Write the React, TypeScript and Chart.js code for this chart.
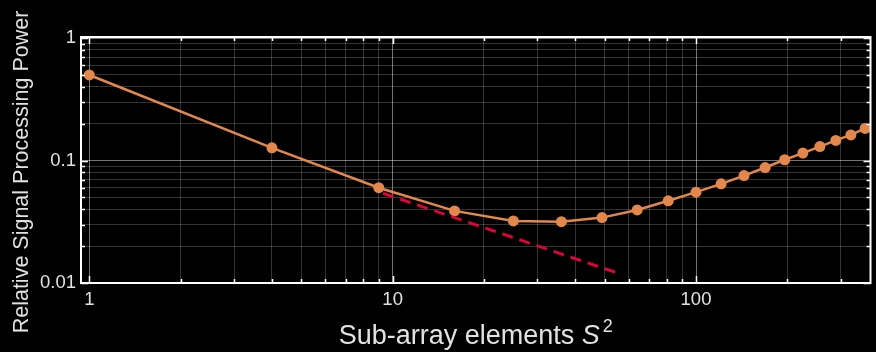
import React, { useEffect, useRef } from 'react';
import { Chart, registerables } from 'chart.js';

Chart.register(...registerables);

// ---- data ----
const elements = [1, 4, 9, 16, 25, 36, 49, 64, 81, 100, 121, 144, 169, 196, 225, 256, 289, 324, 361];
const power = [0.5, 0.127, 0.06, 0.0388, 0.0321, 0.0317, 0.0342, 0.0395, 0.0469, 0.0552, 0.0645, 0.0754, 0.0877, 0.1015, 0.115, 0.13, 0.146, 0.162, 0.183];
const trendElements = [9.3, 56];
const trendPower = [0.054, 0.0119];

const xMajorTicks = [1, 10, 100];
const xTickLabels = ['1', '10', '100'];
const yMajorTicks = [0.01, 0.1, 1];
const yTickLabels = ['0.01', '0.1', '1'];
const xMinorTicks = [2, 3, 4, 5, 6, 7, 8, 9, 20, 30, 40, 50, 60, 70, 80, 90, 200, 300];
const yMinorTicks = [0.02, 0.03, 0.04, 0.05, 0.06, 0.07, 0.08, 0.09, 0.2, 0.3, 0.4, 0.5, 0.6, 0.7, 0.8, 0.9];

const xTitle = 'Sub-array elements ';
const xTitleVar = 'S';
const xTitleSup = '2';
const yTitle = 'Relative Signal Processing Power';

const FONT = '"Liberation Sans", Arial, sans-serif';
const ORANGE = '#e3874b';
const RED = '#e8003a';
const TEXT = '#e2e2e2';

const allX = [...xMajorTicks, ...xMinorTicks].sort((a, b) => a - b);
const allY = [...yMajorTicks, ...yMinorTicks].sort((a, b) => a - b);

const framePlugin = {
  id: 'frameAndTitles',
  afterDraw(chart: any) {
    const { ctx, chartArea: a, scales } = chart;
    ctx.save();
    // inward ticks
    ctx.strokeStyle = '#ffffff';
    ctx.lineWidth = 1.5;
    ctx.beginPath();
    allX.forEach((v) => {
      const px = Math.round(scales.x.getPixelForValue(v)) + 0.5;
      if (px < a.left || px > a.right) return;
      const len = xMajorTicks.includes(v) ? 7 : 4;
      ctx.moveTo(px, a.bottom);
      ctx.lineTo(px, a.bottom - len);
      ctx.moveTo(px, a.top);
      ctx.lineTo(px, a.top + len);
    });
    allY.forEach((v) => {
      const py = Math.round(scales.y.getPixelForValue(v)) + 0.5;
      if (py < a.top - 1 || py > a.bottom + 1) return;
      const len = yMajorTicks.includes(v) ? 7 : 4;
      ctx.moveTo(a.left, py);
      ctx.lineTo(a.left + len, py);
      ctx.moveTo(a.right, py);
      ctx.lineTo(a.right - len, py);
    });
    ctx.stroke();
    // frame
    ctx.lineWidth = 2;
    ctx.strokeRect(a.left, a.top, a.right - a.left, a.bottom - a.top);

    // x title
    ctx.fillStyle = TEXT;
    ctx.textBaseline = 'alphabetic';
    ctx.textAlign = 'left';
    const f1 = `27px ${FONT}`;
    const f2 = `italic 27px ${FONT}`;
    const f3 = `18px ${FONT}`;
    ctx.font = f1;
    const w1 = ctx.measureText(xTitle).width;
    ctx.font = f2;
    const w2 = ctx.measureText(xTitleVar).width;
    ctx.font = f3;
    const w3 = ctx.measureText(xTitleSup).width;
    const total = w1 + w2 + 3 + w3;
    const cx = (a.left + a.right) / 2;
    let x0 = cx - total / 2;
    const base = 344;
    ctx.font = f1;
    ctx.fillText(xTitle, x0, base);
    x0 += w1;
    ctx.font = f2;
    ctx.fillText(xTitleVar, x0, base);
    x0 += w2 + 3;
    ctx.font = f3;
    ctx.fillText(xTitleSup, x0, base - 12);

    // y title
    ctx.translate(28, 172);
    ctx.rotate(-Math.PI / 2);
    ctx.font = `21.5px ${FONT}`;
    ctx.textAlign = 'center';
    ctx.fillText(yTitle, 0, 0);
    ctx.restore();
  },
};

export default function App() {
  const ref = useRef<HTMLCanvasElement | null>(null);

  useEffect(() => {
    document.body.style.margin = '0';
    document.body.style.background = '#000';
    if (!ref.current) return;
    const chart = new Chart(ref.current, {
      type: 'line',
      data: {
        datasets: [
          {
            label: 'trend',
            data: trendElements.map((x, i) => ({ x, y: trendPower[i] })),
            borderColor: RED,
            borderWidth: 2.8,
            borderDash: [11, 7],
            pointRadius: 0,
            fill: false,
          },
          {
            label: 'power',
            data: elements.map((x, i) => ({ x, y: power[i] })),
            borderColor: ORANGE,
            backgroundColor: ORANGE,
            borderWidth: 2.5,
            pointRadius: 5.5,
            pointBorderWidth: 0,
            pointBackgroundColor: ORANGE,
            fill: false,
          },
        ],
      },
      options: {
        animation: false,
        responsive: false,
        layout: { padding: { top: 37, right: 2, left: 0, bottom: 0 } },
        plugins: { legend: { display: false }, tooltip: { enabled: false }, title: { display: false } },
        scales: {
          x: {
            type: 'logarithmic',
            min: 0.939,
            max: 376,
            afterFit: (s: any) => { s.height = 69; s.paddingLeft = 0; s.paddingRight = 0; },
            afterBuildTicks: (s: any) => {
              s.ticks = allX.map((v) => ({ value: v, major: xMajorTicks.includes(v) }));
            },
            border: { display: false },
            grid: {
              drawTicks: false,
              color: (c: any) => (c.tick && c.tick.major ? 'rgba(255,255,255,0.45)' : 'rgba(255,255,255,0.2)'),
              lineWidth: 1,
            },
            ticks: {
              autoSkip: false,
              maxRotation: 0,
              padding: 6,
              color: TEXT,
              font: { family: FONT, size: 18.5 },
              callback: (v: any) => {
                const i = xMajorTicks.indexOf(Number(v));
                return i >= 0 ? xTickLabels[i] : '';
              },
            },
          },
          y: {
            type: 'logarithmic',
            min: 0.01,
            max: 1.021,
            afterFit: (s: any) => { s.width = 81; s.paddingTop = 0; s.paddingBottom = 0; },
            afterBuildTicks: (s: any) => {
              s.ticks = allY.map((v) => ({ value: v, major: yMajorTicks.includes(v) }));
            },
            border: { display: false },
            grid: {
              drawTicks: false,
              color: (c: any) => (c.tick && c.tick.major ? 'rgba(255,255,255,0.45)' : 'rgba(255,255,255,0.2)'),
              lineWidth: 1,
            },
            ticks: {
              autoSkip: false,
              padding: 5,
              color: TEXT,
              font: { family: FONT, size: 18.5 },
              callback: (v: any) => {
                const i = yMajorTicks.findIndex((m) => Math.abs(m - Number(v)) < 1e-9);
                return i >= 0 ? yTickLabels[i] : '';
              },
            },
          },
        },
      },
      plugins: [framePlugin],
    });
    return () => chart.destroy();
  }, []);

  return (
    <div style={{ position: 'fixed', left: 0, top: 0, width: 876, height: 352, background: '#000' }}>
      <canvas ref={ref} width={876} height={352} style={{ display: 'block' }} />
    </div>
  );
}
